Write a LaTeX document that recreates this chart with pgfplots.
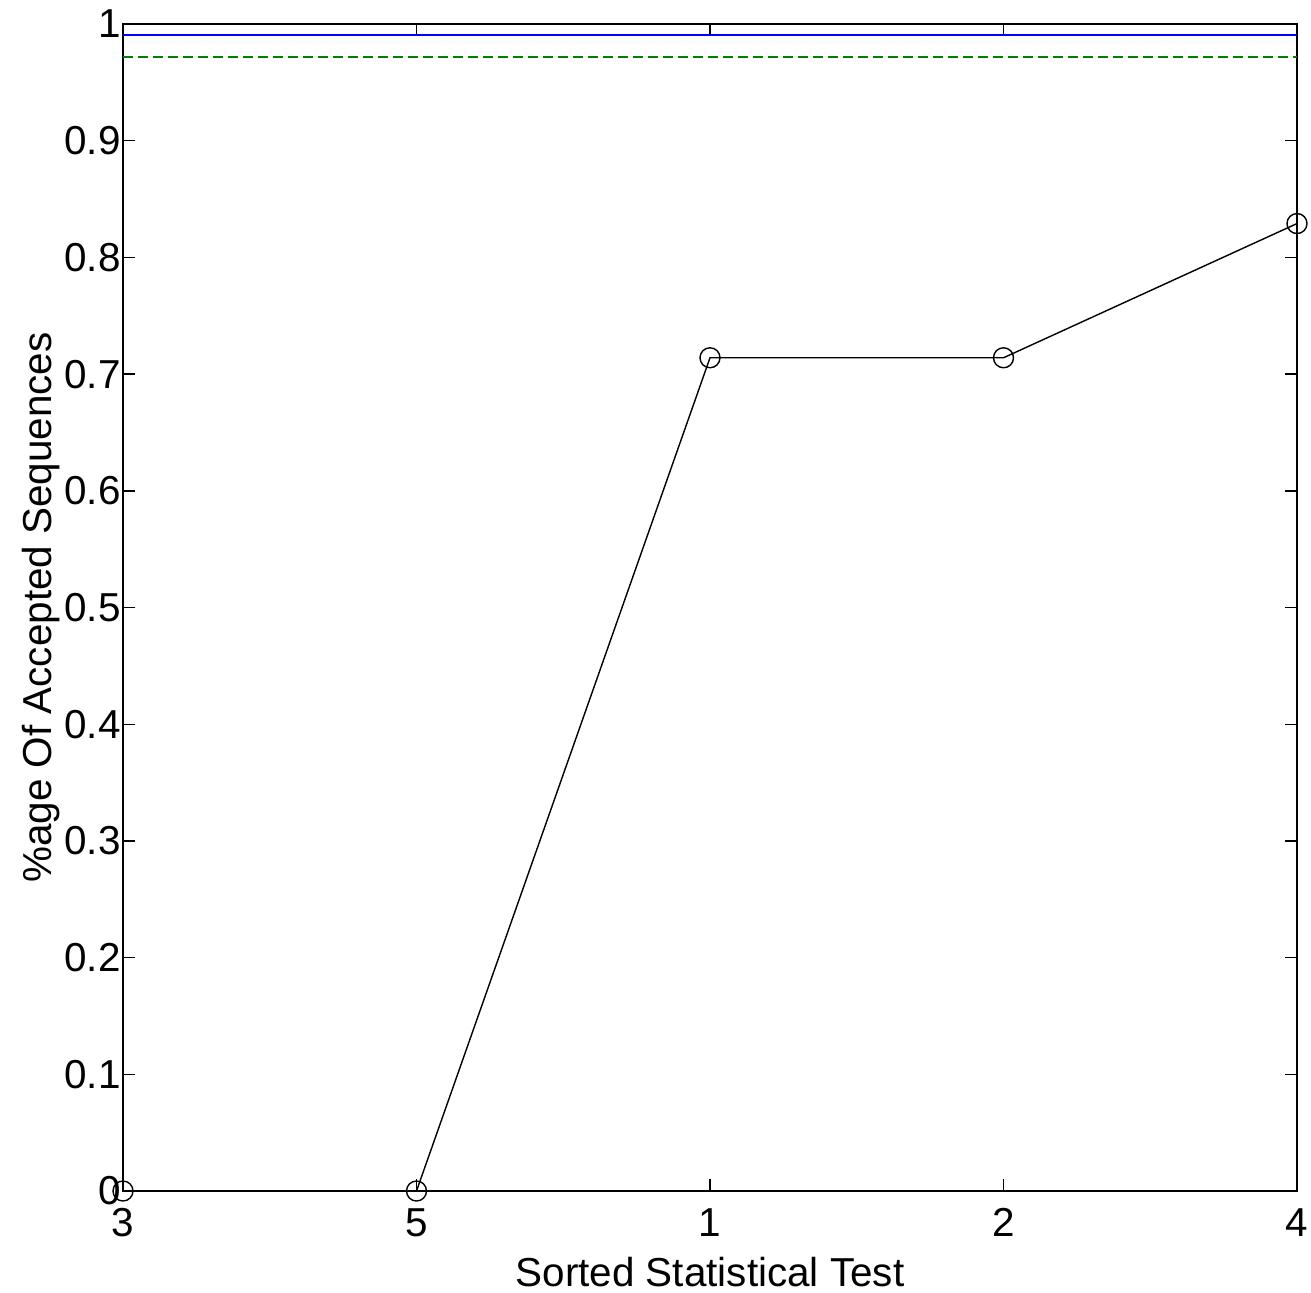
\documentclass[border=0pt]{standalone}
\usepackage{fontspec}
\setmainfont{Liberation Sans}
\usepackage{pgfplots}
\pgfplotsset{compat=1.18}
\definecolor{mgreen}{rgb}{0,0.5,0}

\begin{document}
\begin{tikzpicture}
\begin{axis}[
    scale only axis,
    width=11.74cm, height=11.67cm,
    xmin=0, xmax=4, ymin=0, ymax=1,
    xtick={0,1,2,3,4},
    xticklabels={3,5,1,2,4},
    ytick={0,0.1,0.2,0.3,0.4,0.5,0.6,0.7,0.8,0.9,1},
    yticklabels={0,0.1,0.2,0.3,0.4,0.5,0.6,0.7,0.8,0.9,1},
    tick align=inside,
    major tick length=1.2mm,
    tick style={black, line width=0.4pt},
    axis line style={line width=0.5pt},
    ticklabel style={font=\fontsize{11.5}{13}\selectfont},
    yticklabel style={xshift=1mm},
    xticklabel style={yshift=-0.5mm},
    xlabel={Sorted Statistical Test},
    ylabel={\%age Of Accepted Sequences},
    label style={font=\fontsize{11.5}{13}\selectfont},
    xlabel style={yshift=0.4mm},
    ylabel style={yshift=-2mm},
    clip=false,
]
\addplot[blue, line width=0.5pt] coordinates {(0,0.9906) (4,0.9906)};
\addplot[mgreen, line width=0.5pt, dash pattern=on 1mm off 0.5mm] coordinates {(0,0.9717) (4,0.9717)};
\addplot[black, line width=0.4pt, mark=o, mark size=1mm] coordinates {
    (0,0) (1,0) (2,0.714) (3,0.714) (4,0.829)
};
\end{axis}
% fix the page to the reference margins around the axis
\pgfresetboundingbox
\useasboundingbox ([xshift=-12.3mm, yshift=-10.1mm]current axis.south west)
    rectangle ([xshift=1.4mm, yshift=2.4mm]current axis.north east);
\end{tikzpicture}
\end{document}
